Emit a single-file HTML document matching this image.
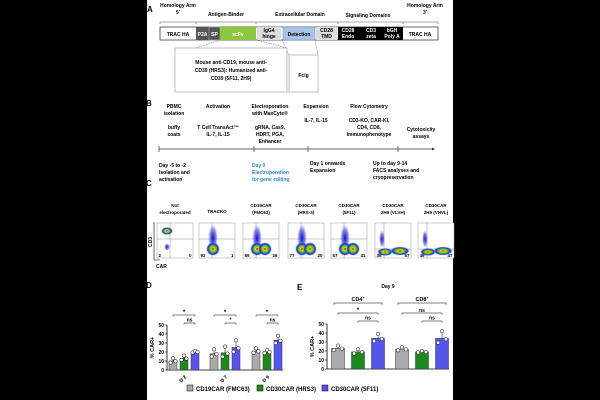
<!DOCTYPE html>
<html><head><meta charset="utf-8"><style>
html,body{margin:0;padding:0;background:#000;}
svg{display:block;font-family:"Liberation Sans",Arial,sans-serif;}
text{font-weight:bold;}
</style></head><body>
<svg id="fig" width="600" height="400" viewBox="0 0 600 400">
<defs>
<radialGradient id="hot"><stop offset="0" stop-color="#e00"/><stop offset="0.25" stop-color="#fc0"/><stop offset="0.5" stop-color="#2c2"/><stop offset="0.75" stop-color="#22e"/><stop offset="1" stop-color="#88f" stop-opacity="0"/></radialGradient>
<radialGradient id="cool"><stop offset="0" stop-color="#11c"/><stop offset="0.6" stop-color="#55d" stop-opacity="0.7"/><stop offset="1" stop-color="#99f" stop-opacity="0"/></radialGradient>
</defs>
<rect x="147" y="0" width="306" height="400" fill="#fff"/>

<!-- Panel A -->
<g font-size="5">
<text x="147" y="12" font-size="8">A</text>
<text x="178" y="7" text-anchor="middle">Homology Arm</text><text x="178" y="14" text-anchor="middle">5'</text>
<text x="226" y="16" text-anchor="middle">Antigen-Binder</text>
<text x="300" y="16" text-anchor="middle">Extracellular Domain</text>
<text x="368" y="17" text-anchor="middle">Signaling Domains</text>
<text x="425" y="7" text-anchor="middle">Homology Arm</text><text x="425" y="14" text-anchor="middle">3'</text>
<path d="M160,24V22H196M196,22H256V24M256,22H338M338,22V24M338,22H403V24M403,22H438V24M196,22V24" stroke="#555" stroke-width="0.6" fill="none"/>
<rect x="160" y="27" width="278" height="13" fill="#fff" stroke="#000" stroke-width="0.6"/>
<text x="178" y="36" text-anchor="middle">TRAC HA</text>
<rect x="196" y="27" width="13" height="13" fill="#555"/><text x="202.5" y="36" text-anchor="middle" fill="#fff">P2A</text>
<rect x="209" y="27" width="11" height="13" fill="#555" stroke="#fff" stroke-width="0.3"/><text x="214.5" y="36" text-anchor="middle" fill="#fff">SP</text>
<rect x="220" y="27" width="36" height="13" fill="#8cc83c"/><text x="238" y="36" text-anchor="middle" fill="#fff">scFv</text>
<rect x="257" y="27" width="24" height="13" fill="#ddd"/><text x="269" y="32" text-anchor="middle">IgG4</text><text x="269" y="38" text-anchor="middle">hinge</text>
<rect x="283" y="27" width="32" height="13" fill="#a9c4e8" stroke="#6a8ab8" stroke-width="0.5"/><text x="299" y="36" text-anchor="middle">Detection</text>
<rect x="316" y="27" width="21" height="13" fill="#ddd"/><text x="326.5" y="32" text-anchor="middle">CD28</text><text x="326.5" y="38" text-anchor="middle">TMD</text>
<rect x="338" y="27" width="65" height="13" fill="#000"/>
<text x="348" y="32" fill="#fff" text-anchor="middle">CD28</text><text x="348" y="38" fill="#fff" text-anchor="middle">Endo</text>
<text x="371" y="32" fill="#fff" text-anchor="middle">CD3</text><text x="371" y="38" fill="#fff" text-anchor="middle">zeta</text>
<text x="392" y="32" fill="#fff" text-anchor="middle">bGH</text><text x="392" y="38" fill="#fff" text-anchor="middle">Poly A</text>
<text x="420" y="36" text-anchor="middle">TRAC HA</text>
<path d="M175,55L220,40M256,40L287,48M282,40L289,55M315,40L318,55" stroke="#666" stroke-width="0.5" stroke-dasharray="1.5,1" fill="none"/>
<rect x="175" y="48" width="112" height="44" fill="#fff" stroke="#999" stroke-width="0.6"/>
<text x="231" y="64" text-anchor="middle">Mouse anti-CD19, mouse anti-</text>
<text x="231" y="72" text-anchor="middle">CD30 (HRS3): Humanized anti-</text>
<text x="231" y="80" text-anchor="middle">CD30 (5F11, 2H9)</text>
<rect x="289" y="55" width="29" height="37" fill="#fff" stroke="#999" stroke-width="0.6"/>
<text x="303.5" y="77" text-anchor="middle">Fclg</text>
</g>

<!-- Panel B -->
<g font-size="5">
<text x="146" y="106" font-size="8">B</text>
<text x="174" y="108" text-anchor="middle">PBMC</text><text x="174" y="115" text-anchor="middle">isolation</text>
<text x="174" y="129" text-anchor="middle">buffy</text><text x="174" y="136" text-anchor="middle">coats</text>
<text x="218" y="108" text-anchor="middle">Activation</text>
<text x="218" y="129" text-anchor="middle">T Cell TransAct™</text><text x="218" y="136" text-anchor="middle">IL-7, IL-15</text>
<text x="270" y="108" text-anchor="middle">Electroporation</text><text x="270" y="115" text-anchor="middle">with MaxCyte®</text>
<text x="270" y="129" text-anchor="middle">gRNA, Cas9,</text><text x="270" y="136" text-anchor="middle">HDRT, PGA,</text><text x="270" y="143" text-anchor="middle">Enhancer</text>
<text x="316" y="108" text-anchor="middle">Expansion</text><text x="316" y="122" text-anchor="middle">IL-7, IL-15</text>
<text x="369" y="108" text-anchor="middle">Flow Cytometry</text>
<text x="369" y="122" text-anchor="middle">CD3-KO, CAR-KI,</text><text x="369" y="129" text-anchor="middle">CD4, CD8,</text><text x="369" y="136" text-anchor="middle">Immunophenotype</text>
<text x="421" y="131" text-anchor="middle">Cytotoxicity</text><text x="421" y="138" text-anchor="middle">assays</text>
<line x1="159" y1="149" x2="432" y2="149" stroke="#333" stroke-width="0.7"/>
<path d="M432,147.5L435,149L432,150.5Z" fill="#333"/>
<path d="M159,146V152M254,146V152M308,146V152M398,146V152" stroke="#333" stroke-width="0.7"/>
<text x="159" y="167">Day -5 to -2</text><text x="159" y="174">Isolation and</text><text x="159" y="181">activation</text>
<g fill="#2a8ad0"><text x="252" y="167">Day 0</text><text x="252" y="174">Electroporation</text><text x="252" y="181">for gene editing</text></g>
<text x="310" y="165">Day 1 onwards</text><text x="310" y="172">Expansion</text>
<text x="373" y="165">Up to day 9-14</text><text x="373" y="172">FACS analyses and</text><text x="373" y="179">cryopreservation</text>
</g>

<!-- Panel C -->
<g id="panelC" font-size="4.5">
<text x="146" y="186" font-size="8">C</text>
<text x="152" y="242" transform="rotate(-90 152 242)" text-anchor="middle" font-size="5">CD3</text>
<text x="156" y="268" font-size="5">CAR</text>
<path d="M154,222V260H160" stroke="#000" stroke-width="0.6" fill="none"/>
</g>

<g id="panelD"></g>
<g id="panelE"></g>

<g font-size="6">
<g><rect x="187" y="385" width="6" height="6" fill="#aaa" stroke="#000" stroke-width="0.5"/><text x="196" y="391">CD19CAR (FMC63)</text></g>
<g><rect x="257" y="385" width="6" height="6" fill="#1a8a1a" stroke="#000" stroke-width="0.5"/><text x="266" y="391">CD30CAR (HRS3)</text></g>
<g><rect x="322" y="385" width="6" height="6" fill="#5555ee" stroke="#000" stroke-width="0.5"/><text x="331" y="391">CD30CAR (5F11)</text></g>
</g>
</svg>
<script>
const NS="http://www.w3.org/2000/svg";
function mk(parent,tag,attrs,txt){const e=document.createElementNS(NS,tag);for(const k in attrs)e.setAttribute(k,attrs[k]);if(txt!==undefined)e.textContent=txt;parent.appendChild(e);return e;}

const flowTitles1=["Not","","CD19CAR","CD30CAR","CD30CAR","CD30CAR","CD30CAR"];
const flowTitles2=["electroporated","TRACKO","(FMC63)","(HRS-3)","(5F11)","2H9 (VLVH)","2H9 (VHVL)"];
const flowLeft=["2","92","69","77","57","36","46"];
const flowRight=["0","1","26","20","41","57","47"];
const flowX=[157,199,243,288,331,375,418];
const C=document.getElementById('panelC');
flowX.forEach((x,i)=>{
  const g=mk(C,'g',{});
  
  
  mk(g,'text',{x:x+18,y:flowTitles1[i]?207:213,'text-anchor':'middle'},flowTitles1[i]||flowTitles2[i]);
  if(flowTitles1[i])mk(g,'text',{x:x+18,y:214,'text-anchor':'middle'},flowTitles2[i]);
  mk(g,'rect',{x:x,y:223,width:36,height:35,fill:'#fff',stroke:'#999','stroke-width':0.5});
  const cy=i>=5?249:239;
  mk(g,'line',{x1:x+(i>=5?9:13),y1:223,x2:x+(i>=5?9:13),y2:258,stroke:'#777','stroke-width':0.4});
  mk(g,'line',{x1:x,y1:cy,x2:x+36,y2:cy,stroke:'#777','stroke-width':0.4});
  if(i===0){mk(g,'ellipse',{cx:x+10,cy:231,rx:6,ry:4,fill:'url(#hot)'});mk(g,'ellipse',{cx:x+10,cy:247,rx:3,ry:4,fill:'url(#cool)'});}
  else if(i<5){mk(g,'ellipse',{cx:x+14,cy:238,rx:5,ry:14,fill:'url(#cool)'});
    mk(g,'ellipse',{cx:x+14,cy:249,rx:7,ry:7,fill:'url(#hot)'});
    if(i!==1)mk(g,'ellipse',{cx:x+22,cy:249,rx:7,ry:7,fill:'url(#hot)'});}
  else{mk(g,'ellipse',{cx:x+7,cy:239,rx:3,ry:9,fill:'url(#cool)'});mk(g,'ellipse',{cx:x+10,cy:252,rx:8,ry:4,fill:'url(#hot)'});mk(g,'ellipse',{cx:x+25,cy:251,rx:10,ry:4.5,fill:'url(#hot)'});}
  mk(g,'text',{x:x+1.5,y:257},flowLeft[i]);
  mk(g,'text',{x:x+34.5,y:257,'text-anchor':'end'},flowRight[i]);
});

const colors=["#aaa","#1a8a1a","#5555ee"];
const yTicks=[0,10,20,30,40,50];
const dGroups=["D 2","D 7","D 9"];
const dCD19=[10,18,21];
const dHRS3=[13,19,20];
const d5F11=[20,25,33];
const dErr19=[3,5,3];
const dErrHRS=[3,7,2];
const dErr5F=[1,8,5];
const eGroups=["CD4+","CD8+"];
const eCD19=[23,22];
const eHRS3=[19,19];
const e5F11=[34,34];
const eErr19=[3,2];
const eErrHRS=[3,1];
const eErr5F=[5,8];
const dotOffsets=[-0.6,1,-0.1];

function barChart(G,o,groups,series,errs,xLabels){
  const y=v=>o.y0-(v/50)*(o.y0-o.y50);
  mk(G,'line',{x1:o.x0,y1:o.y50,x2:o.x0,y2:o.y0,stroke:'#000','stroke-width':0.8});
  mk(G,'line',{x1:o.x0,y1:o.y0,x2:o.x1,y2:o.y0,stroke:'#000','stroke-width':0.8});
  yTicks.forEach(t=>{mk(G,'line',{x1:o.x0-2,y1:y(t),x2:o.x0,y2:y(t),stroke:'#000','stroke-width':0.6});
    mk(G,'text',{x:o.x0-3,y:y(t)+2,'text-anchor':'end','font-size':5},t);});
  mk(G,'text',{x:o.x0-13,y:(o.y0+o.y50)/2,'text-anchor':'middle','font-size':5.5,transform:`rotate(-90 ${o.x0-13} ${(o.y0+o.y50)/2})`},'% CAR+');
  groups.forEach((gname,gi)=>{
    series.forEach((s,si)=>{
      const cx=o.gx[gi]+si*o.sp;
      const r=mk(G,'rect',{x:cx-o.bw/2,y:y(s[gi]),width:o.bw,height:o.y0-y(s[gi]),fill:colors[si],stroke:'#333','stroke-width':0.5});
      
      
      const e=errs[si][gi];
      mk(G,'path',{d:`M${cx},${y(s[gi])}V${y(s[gi]+e)}M${cx-1.5},${y(s[gi]+e)}H${cx+1.5}`,stroke:'#000','stroke-width':0.5,fill:'none'});
      [-1,0,1].forEach((dx,k)=>mk(G,'circle',{cx:cx+dx*o.bw*0.3,cy:y(s[gi]+dotOffsets[k]*e),r:1.8,fill:'#fff',stroke:'#000','stroke-width':0.5}));
    });
    const a=o.gx[gi],b=o.gx[gi]+o.sp,c=o.gx[gi]+2*o.sp;
    mk(G,'path',{d:`M${a},${o.bk1+1.5}V${o.bk1}H${c}V${o.bk1+1.5}`,stroke:'#000','stroke-width':0.5,fill:'none'});
    mk(G,'text',{x:(a+c)/2,y:o.bk1-1,'text-anchor':'middle','font-size':o.sig1[gi]==='*'?6:5},o.sig1[gi]);
    mk(G,'path',{d:`M${b},${o.bk2+1.5}V${o.bk2}H${c}V${o.bk2+1.5}`,stroke:'#000','stroke-width':0.5,fill:'none'});
    mk(G,'text',{x:(b+c)/2,y:o.bk2-1.5,'text-anchor':'middle','font-size':5},o.sig2[gi]);
    if(xLabels){const lx=o.gx[gi]+o.sp, ly=o.y0+10;
      mk(G,'text',{x:lx,y:ly,'text-anchor':'middle','font-size':5,transform:`rotate(-45 ${lx} ${ly})`},gname);}
    else{const lx=o.gx[gi]+o.sp;
      mk(G,'path',{d:`M${a-4},${o.top+2}V${o.top}H${c+4}V${o.top+2}`,stroke:'#000','stroke-width':0.5,fill:'none'});
      const t=mk(G,'text',{x:lx,y:o.top-2,'text-anchor':'middle','font-size':5.5},gname.replace('+',''));
      mk(t,'tspan',{dy:-2,'font-size':3.5},'+');}
  });
}
const D=document.getElementById('panelD');
mk(D,'text',{x:146,y:288,'font-size':8},'D');
barChart(D,{x0:167,x1:283,y0:370,y50:325,gx:[173,214,256],sp:11,bw:8,bk1:315,bk2:323,sig1:['*','*','*'],sig2:['ns','*','ns']},
  dGroups,[dCD19,dHRS3,d5F11],[dErr19,dErrHRS,dErr5F],true);
const E=document.getElementById('panelE');
mk(E,'text',{x:297,y:290,'font-size':8},'E');
mk(E,'text',{x:388,y:288,'text-anchor':'middle','font-size':5},'Day 9');
barChart(E,{x0:327,x1:449,y0:369,y50:324,gx:[338,402],sp:20,bw:13,bk1:313,bk2:321,sig1:['*','ns'],sig2:['ns','ns'],top:303},
  eGroups,[eCD19,eHRS3,e5F11],[eErr19,eErrHRS,eErr5F],false);
</script>
</body></html>
